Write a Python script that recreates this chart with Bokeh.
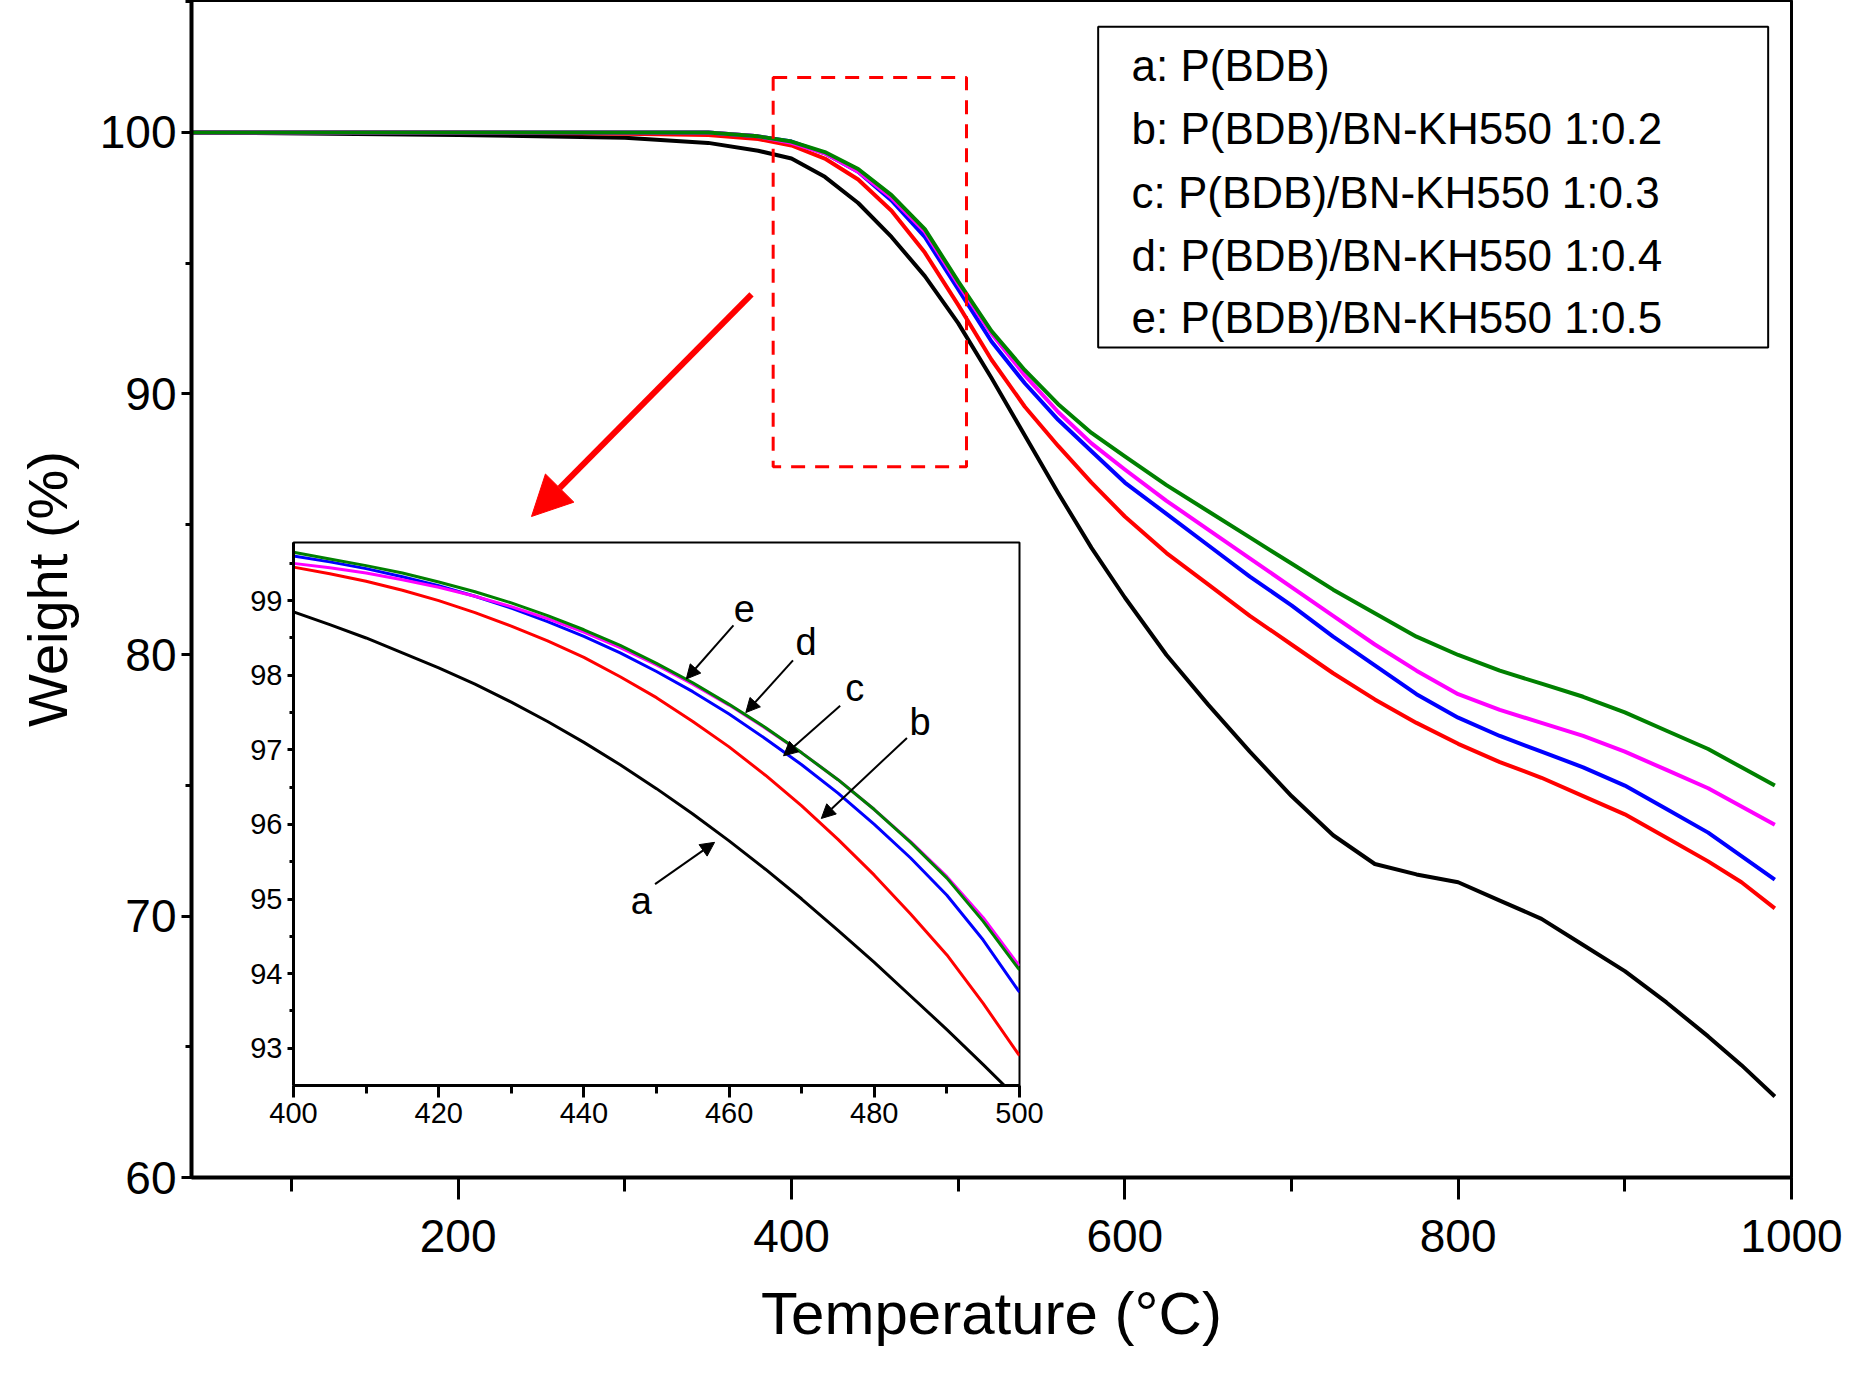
from bokeh.plotting import figure
from bokeh.models import Range1d, FixedTicker, Arrow, NormalHead
from bokeh.core.properties import value
from bokeh.embed import file_html
from bokeh.resources import INLINE

FONT = "Liberation Sans"

# main curves (Temperature °C, Weight %)
T = [40, 200, 300, 350, 380, 400, 420, 440, 460, 480, 500, 520, 540, 560, 580, 600, 625, 650, 675, 700, 725, 750, 775, 800, 825, 850, 875, 900, 925, 950, 970, 990]
a = [100, 99.9, 99.8, 99.6, 99.3, 99.0, 98.3, 97.3, 96.0, 94.5, 92.7, 90.6, 88.4, 86.2, 84.1, 82.2, 80.0, 78.1, 76.3, 74.6, 73.1, 72.0, 71.6, 71.3, 70.6, 69.9, 68.9, 67.9, 66.7, 65.4, 64.3, 63.1]
b = [100, 100, 99.95, 99.9, 99.75, 99.5, 99.0, 98.2, 97.0, 95.4, 93.4, 91.3, 89.5, 88.0, 86.6, 85.3, 83.9, 82.7, 81.5, 80.4, 79.3, 78.3, 77.4, 76.6, 75.9, 75.3, 74.6, 73.9, 73.0, 72.1, 71.3, 70.3]
c = [100, 100, 100, 100, 99.85, 99.65, 99.2, 98.5, 97.4, 96.0, 94.0, 92.0, 90.4, 89.0, 87.8, 86.6, 85.4, 84.2, 83.0, 81.9, 80.7, 79.6, 78.5, 77.6, 76.9, 76.3, 75.7, 75.0, 74.1, 73.2, 72.3, 71.4]
d = [100, 100, 100, 100, 99.85, 99.6, 99.2, 98.5, 97.5, 96.2, 94.2, 92.3, 90.7, 89.3, 88.1, 87.1, 85.9, 84.8, 83.7, 82.6, 81.5, 80.4, 79.4, 78.5, 77.9, 77.4, 76.9, 76.3, 75.6, 74.9, 74.2, 73.5]
e = [100, 100, 100, 100, 99.85, 99.65, 99.25, 98.6, 97.6, 96.3, 94.3, 92.4, 90.9, 89.6, 88.5, 87.6, 86.5, 85.5, 84.5, 83.5, 82.5, 81.6, 80.7, 80.0, 79.4, 78.9, 78.4, 77.8, 77.1, 76.4, 75.7, 75.0]

# inset curves (400-500 °C)
Ti = [400, 405, 410, 415, 420, 425, 430, 435, 440, 445, 450, 455, 460, 465, 470, 475, 480, 485, 490, 495, 500]
ai = [98.85, 98.68, 98.5, 98.3, 98.1, 97.88, 97.64, 97.38, 97.1, 96.8, 96.48, 96.14, 95.78, 95.4, 95.0, 94.58, 94.15, 93.7, 93.25, 92.78, 92.3]
bi = [99.45, 99.36, 99.26, 99.14, 99.0, 98.84, 98.66, 98.46, 98.24, 97.98, 97.7, 97.38, 97.04, 96.66, 96.25, 95.8, 95.32, 94.8, 94.25, 93.6, 92.9]
ci = [99.6, 99.52, 99.43, 99.32, 99.2, 99.06, 98.9, 98.72, 98.52, 98.3, 98.05, 97.78, 97.48, 97.15, 96.8, 96.42, 96.0, 95.55, 95.05, 94.45, 93.75]
di = [99.5, 99.44, 99.37, 99.28, 99.18, 99.06, 98.92, 98.76, 98.58, 98.37, 98.14, 97.88, 97.6, 97.29, 96.96, 96.6, 96.2, 95.77, 95.3, 94.75, 94.1]
ei = [99.65, 99.56, 99.47, 99.37, 99.25, 99.12, 98.97, 98.8, 98.61, 98.4, 98.16, 97.9, 97.61, 97.3, 96.96, 96.6, 96.2, 95.76, 95.28, 94.7, 94.05]

colors = ["black", "red", "blue", "magenta", "green"]
legend_labels = ["a: P(BDB)", "b: P(BDB)/BN-KH550 1:0.2", "c: P(BDB)/BN-KH550 1:0.3",
                 "d: P(BDB)/BN-KH550 1:0.4", "e: P(BDB)/BN-KH550 1:0.5"]
inset_labels = ["a", "b", "c", "d", "e"]

def style_axes(p, size):
    for ax in (p.xaxis[0], p.yaxis[0]):
        ax.axis_line_width = 4
        ax.major_tick_line_width = 3
        ax.minor_tick_line_width = 3
        ax.major_label_text_font = FONT
        ax.major_label_text_font_size = size
        ax.major_label_text_color = "black"
        ax.axis_label_text_font = FONT
        ax.axis_label_text_font_style = "normal"
        ax.axis_label_text_color = "black"
    p.grid.visible = False
    p.outline_line_color = "black"
    p.outline_line_width = 3
    p.outline_line_alpha = 1

p = figure(frame_width=1600, frame_height=1177, min_border_left=191, min_border_top=0,
           min_border_right=53, min_border_bottom=188,
           x_range=Range1d(40, 1000), y_range=Range1d(60, 105.05),
           output_backend="svg", toolbar_location=None)
style_axes(p, "46px")
p.xaxis.ticker = FixedTicker(ticks=[200, 400, 600, 800, 1000], minor_ticks=[100, 300, 500, 700, 900])
p.yaxis.ticker = FixedTicker(ticks=[60, 70, 80, 90, 100], minor_ticks=[65, 75, 85, 95, 105])
p.xaxis.major_tick_out = 22; p.xaxis.major_tick_in = 0
p.xaxis.minor_tick_out = 14; p.xaxis.minor_tick_in = 0
p.yaxis.major_tick_out = 10; p.yaxis.major_tick_in = 0
p.yaxis.minor_tick_out = 6; p.yaxis.minor_tick_in = 0
p.xaxis.axis_label = "Temperature (°C)"
p.yaxis.axis_label = "Weight (%)"
p.xaxis.axis_label_text_font_size = "60px"
p.yaxis.axis_label_text_font_size = "56px"
p.xaxis.major_label_standoff = 20
p.xaxis.axis_label_standoff = 25
p.yaxis.axis_label_standoff = 18

for ys, col in zip([a, b, c, d, e], colors):
    p.line(T, ys, line_color=col, line_width=4, line_join="round")

# dashed zoom box & arrow
p.quad(left=389, right=505, bottom=87.2, top=102.1, fill_alpha=0,
       line_color="red", line_dash="14 10", line_width=3)
p.add_layout(Arrow(x_start=376, y_start=93.8, x_end=244, y_end=85.3, line_color="red", line_width=6,
                   end=NormalHead(size=40, fill_color="red", line_color="red")))

# legend
p.quad(left=584, right=986, bottom=91.77, top=104.05, fill_color="white", line_color="black", line_width=2)
ly = [102.55, 100.14, 97.72, 95.3, 92.9]
p.text(x=[604] * 5, y=ly, text=legend_labels, text_font=value(FONT), text_font_size="44px",
       text_baseline="middle", text_color="black")

# inset
ins = figure(frame_width=726, frame_height=543, min_border_left=50, min_border_top=5,
             min_border_right=30, min_border_bottom=50,
             x_range=Range1d(400, 500), y_range=Range1d(92.5, 99.78),
             output_backend="svg", toolbar_location=None,
             background_fill_color="white", border_fill_alpha=0)
style_axes(ins, "29px")
ins.xaxis.ticker = FixedTicker(ticks=[400, 420, 440, 460, 480, 500], minor_ticks=list(range(410, 500, 20)))
ins.yaxis.ticker = FixedTicker(ticks=[93, 94, 95, 96, 97, 98, 99], minor_ticks=[93.5, 94.5, 95.5, 96.5, 97.5, 98.5, 99.5])
ins.xaxis.major_tick_out = 12; ins.xaxis.major_tick_in = 0
ins.xaxis.minor_tick_out = 8; ins.xaxis.minor_tick_in = 0
ins.yaxis.major_tick_out = 6; ins.yaxis.major_tick_in = 0
ins.yaxis.minor_tick_out = 4; ins.yaxis.minor_tick_in = 0
ins.xaxis.axis_line_width = 3
ins.yaxis.axis_line_width = 3
ins.outline_line_width = 2
for ys, col in zip([ai, bi, ci, di, ei], colors):
    ins.line(Ti, ys, line_color=col, line_width=3, line_join="round")

lab_x = [447.9, 486.3, 477.3, 470.6, 462.1]
lab_y = [94.97, 97.38, 97.83, 98.44, 98.89]
arr = [(449.8, 95.2, 458, 95.76), (484.5, 97.16, 472.7, 96.08), (475.3, 97.59, 467.5, 96.92),
       (468.8, 98.2, 462.3, 97.5), (460.6, 98.67, 454.1, 97.95)]
ins.text(x=lab_x, y=lab_y, text=inset_labels, text_font=value(FONT), text_font_size="38px",
         text_align="center", text_baseline="middle", text_color="black")
for x0, y0, x1, y1 in arr:
    ins.add_layout(Arrow(x_start=x0, y_start=y0, x_end=x1, y_end=y1, line_width=2,
                         end=NormalHead(size=14, fill_color="black", line_color="black")))

html = file_html([p, ins], INLINE)
css = ('<style>div[data-root-id="%s"]{display:block !important; position:absolute !important; '
       'left:%dpx; top:%dpx; z-index:5;}</style>' % (ins.id, 293 - 50, 542 - 5))
html = html.replace("</head>", css + "</head>", 1)
open("out.html", "w").write(html)
